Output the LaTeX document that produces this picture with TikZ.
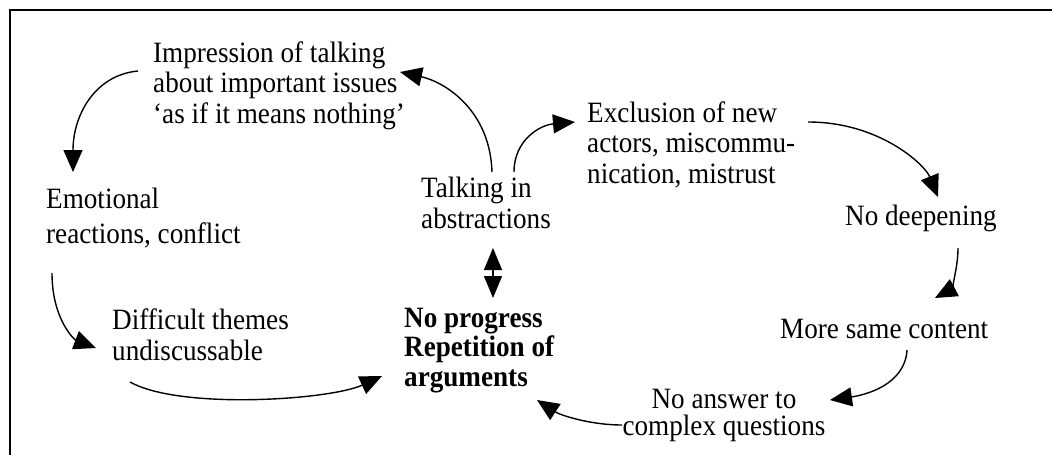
\documentclass[tikz,border=0pt]{standalone}
\usepackage{fontspec}
\setmainfont{Liberation Serif}[FakeStretch=0.92]
\usetikzlibrary{arrows.meta}
\begin{document}
\begin{tikzpicture}[x=1pt,y=-1pt,
  lbl/.style={inner sep=0pt, anchor=base west, align=left,
    font=\fontsize{29.5}{30.5}\selectfont},
  boldlbl/.style={lbl, font=\bfseries\fontsize{29.5}{29.5}\selectfont},
  arr/.style={line width=1.4pt, -{Triangle[length=22pt,width=19pt]}},
  dblarr/.style={line width=1.4pt, {Triangle[length=22pt,width=18pt]}-{Triangle[length=22pt,width=18pt]}},
]
\useasboundingbox (0,0) rectangle (1052,455);
% open frame: top and left rules
\draw[line width=2pt] (10,455) -- (10,10) -- (1052,10);

% statements of the cycle (anchored on the baseline of their last line)
\node[lbl] (imp) at (153,123) {Impression of talking\\about important issues\\`as if it means nothing'};
\node[lbl] (emo) at (46,243) {Emotional\\[4.5pt]reactions, conflict};
\node[lbl] (talk) at (421,228) {Talking in\\abstractions};
\node[lbl] (excl) at (587,183) {Exclusion of new\\actors, miscommu-\\nication, mistrust};
\node[lbl] (deep) at (845,225) {No deepening};
\node[lbl] (same) at (780,338) {More same content};
\node[lbl, anchor=base, align=center, font=\fontsize{29.5}{26.5}\selectfont] (ans) at (724,435) {No answer to\\complex questions};
\node[lbl] (diff) at (112,360) {Difficult themes\\undiscussable};
\node[boldlbl] (prog) at (404,386) {No progress\\Repetition of\\arguments};

% curved connectors
\draw[arr] ([shift={(71,-56)}]talk.base west) .. controls (490,110) and (445,82) .. ([shift={(247,-51)}]imp.base west);
\draw[arr] ([shift={(93,-56)}]talk.base west) .. controls (514,140) and (540,125) .. ([shift={(-12,-61)}]excl.base west);
\draw[arr] ([shift={(221,-61)}]excl.base west) .. controls (880,122) and (925,165) .. ([shift={(93,-28)}]deep.base west);
\draw[arr] ([shift={(113,23)}]deep.base west) .. controls (958,270) and (950,290) .. ([shift={(155,-40)}]same.base west);
\draw[arr] ([shift={(127,12)}]same.base west) .. controls (905,385) and (865,395) .. ([shift={(106,-35)}]ans.base);
\draw[arr] ([shift={(-102,-10)}]ans.base) .. controls (590,425) and (560,415) .. ([shift={(133,14)}]prog.base west);
\draw[arr] ([shift={(18,22)}]diff.base west) .. controls (180,410) and (330,400) .. ([shift={(-22,-10)}]prog.base west);
\draw[arr] ([shift={(6,30)}]emo.base west) .. controls (52,320) and (75,340) .. ([shift={(-16,-12)}]diff.base west);
\draw[arr] ([shift={(-15,-52)}]imp.base west) .. controls (95,75) and (73,115) .. ([shift={(27,-71)}]emo.base west);
\draw[dblarr] ([shift={(72,20)}]talk.base west) -- ([shift={(89,-88)}]prog.base west);
\end{tikzpicture}
\end{document}
